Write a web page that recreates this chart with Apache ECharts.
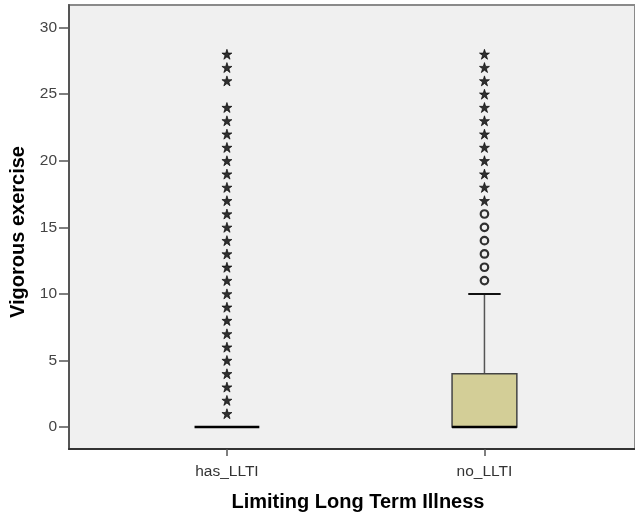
<!DOCTYPE html>
<html>
<head>
<meta charset="utf-8">
<script src="https://cdn.jsdelivr.net/npm/echarts@6/dist/echarts.min.js"></script>
<style>
html,body{margin:0;padding:0;background:#fff;}
#chart{width:635px;height:517px;}
</style>
</head>
<body>
<div id="chart"></div>
<script>
// ---- data ----
const categories = ['has_LLTI', 'no_LLTI'];
// [min whisker, Q1, median, Q3, max whisker]
const boxStats = [
  [0, 0, 0, 0, 0],
  [0, 0, 0, 4, 10]
];
// extreme values (stars) and outliers (circles)
const extremesHas = [1,2,3,4,5,6,7,8,9,10,11,12,13,14,15,16,17,18,19,20,21,22,23,24,26,27,28];
const outliersHas = [];
const extremesNo = [17,18,19,20,21,22,23,24,25,26,27,28];
const outliersNo = [11,12,13,14,15,16];
const yTicks = [0, 5, 10, 15, 20, 25, 30];
const xTicks = [0, 1];
const yTitle = 'Vigorous exercise';
const xTitle = 'Limiting Long Term Illness';

// ---- build ----
const boxData = boxStats.map((s, i) => [i].concat(s));
const pts = (arr, i) => arr.map(v => [i, v]);
const starData = pts(extremesHas, 0).concat(pts(extremesNo, 1));
const circleData = pts(outliersHas, 0).concat(pts(outliersNo, 1));

const STAR = 'path://M50,0 L61.8,35.4 L99,35.4 L68.9,57.3 L80.4,92.7 L50,70.8 L19.6,92.7 L31.1,57.3 L1,35.4 L38.2,35.4 Z';
const FONT = 'Liberation Sans, Arial, sans-serif';

function renderBox(params, api) {
  const x = api.value(0);
  const lo = api.value(1), q1 = api.value(2), med = api.value(3), q3 = api.value(4), hi = api.value(5);
  const w = api.size([0.2516, 0])[0];
  const pLo = api.coord([x, lo]), pQ1 = api.coord([x, q1]), pMed = api.coord([x, med]);
  const pQ3 = api.coord([x, q3]), pHi = api.coord([x, hi]);
  const cx = pMed[0];
  const ch = [];
  if (hi > q3) {
    ch.push({type: 'line', shape: {x1: cx, y1: pQ3[1], x2: cx, y2: pHi[1]}, style: {stroke: '#555', lineWidth: 1.5}});
    ch.push({type: 'line', shape: {x1: cx - w / 4, y1: pHi[1], x2: cx + w / 4, y2: pHi[1]}, style: {stroke: '#111', lineWidth: 2}});
  }
  if (lo < q1) {
    ch.push({type: 'line', shape: {x1: cx, y1: pQ1[1], x2: cx, y2: pLo[1]}, style: {stroke: '#555', lineWidth: 1.5}});
    ch.push({type: 'line', shape: {x1: cx - w / 4, y1: pLo[1], x2: cx + w / 4, y2: pLo[1]}, style: {stroke: '#111', lineWidth: 2}});
  }
  if (q3 > q1) {
    ch.push({type: 'rect', shape: {x: cx - w / 2, y: pQ3[1], width: w, height: pQ1[1] - pQ3[1]},
      style: {fill: '#d3ce97', stroke: '#444', lineWidth: 1.5}});
  }
  ch.push({type: 'line', shape: {x1: cx - w / 2, y1: pMed[1], x2: cx + w / 2, y2: pMed[1]}, style: {stroke: '#000', lineWidth: 2.5}});
  return {type: 'group', children: ch};
}

const chart = echarts.init(document.getElementById('chart'), null, {renderer: 'canvas'});
chart.setOption({
  animation: false,
  backgroundColor: '#ffffff',
  grid: {
    left: 69, right: -2, top: 5, bottom: 68,
    show: true, backgroundColor: '#f0f0f0', borderColor: '#8a8a8a', borderWidth: 2
  },
  xAxis: {
    type: 'value', min: -0.6133, max: 1.5846,
    splitLine: {show: false},
    axisLine: {show: true, onZero: false, lineStyle: {color: '#333', width: 2}},
    axisTick: {show: true, length: 7, customValues: xTicks, lineStyle: {color: '#555', width: 1.5}},
    axisLabel: {
      customValues: xTicks, margin: 15,
      formatter: v => categories[Math.round(v)] || '',
      fontFamily: FONT, fontSize: 15.5, color: '#333'
    }
  },
  yAxis: {
    type: 'value', min: -1.65, max: 31.7,
    splitLine: {show: false},
    axisLine: {show: true, onZero: false, lineStyle: {color: '#555', width: 2}},
    axisTick: {show: true, length: 10, customValues: yTicks, lineStyle: {color: '#555', width: 1.5}},
    axisLabel: {customValues: yTicks, margin: 12, fontFamily: FONT, fontSize: 15.5, color: '#444'}
  },
  graphic: [
    {type: 'text', x: 18.5, y: 232, rotation: Math.PI / 2,
      style: {text: yTitle, fontFamily: FONT, fontSize: 20, fontWeight: 'bold', fill: '#000', align: 'center', verticalAlign: 'middle'}},
    {type: 'text', x: 358, y: 502,
      style: {text: xTitle, fontFamily: FONT, fontSize: 20, fontWeight: 'bold', fill: '#000', align: 'center', verticalAlign: 'middle'}}
  ],
  series: [
    {type: 'custom', renderItem: renderBox, data: boxData, encode: {x: 0, y: [1, 2, 3, 4, 5]}, z: 2},
    {type: 'scatter', data: starData, symbol: STAR, symbolSize: 10,
      itemStyle: {color: '#000', borderColor: '#000', borderWidth: 0.8}, z: 3},
    {type: 'scatter', data: circleData, symbol: 'circle', symbolSize: 7.5,
      itemStyle: {color: 'rgba(0,0,0,0)', borderColor: '#000', borderWidth: 2.2}, z: 3}
  ]
});
</script>
</body>
</html>
